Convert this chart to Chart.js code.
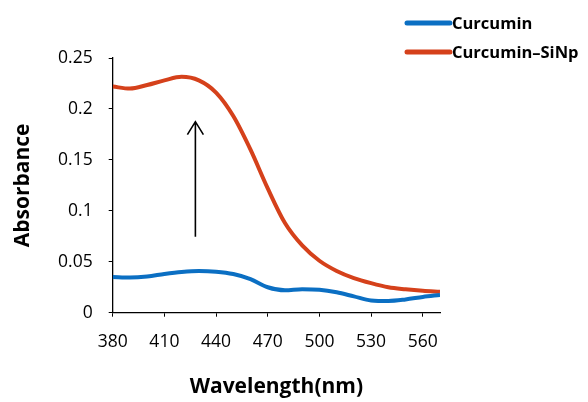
<!DOCTYPE html>
<html>
<head>
<meta charset="utf-8">
<script src="https://cdn.jsdelivr.net/npm/chart.js@4"></script>
<style>
    html, body { margin: 0; padding: 0; background: #fff; }
    #wrap { width: 588px; height: 402px; }
</style>
</head>
<body>
<div id="wrap"><canvas id="chart"></canvas></div>
<script>
// данные с графика
const wavelengths = [380, 390, 400, 410, 420, 430, 440, 450, 460, 470, 480, 490, 500, 510, 520, 530, 540, 550, 560, 570];
const curcumin = [0.035, 0.0345, 0.0355, 0.038, 0.040, 0.041, 0.0403, 0.038, 0.033, 0.025, 0.022, 0.023, 0.0225, 0.020, 0.016, 0.012, 0.0115, 0.013, 0.0155, 0.0175];
const curcuminSiNp = [0.222, 0.220, 0.2235, 0.228, 0.2315, 0.228, 0.216, 0.193, 0.160, 0.122, 0.088, 0.066, 0.051, 0.041, 0.034, 0.029, 0.025, 0.023, 0.0215, 0.0205];
const seriesNames = ['Curcumin', 'Curcumin\u2013SiNp'];
const xTicks = [380, 410, 440, 470, 500, 530, 560];
const yTicks = [0, 0.05, 0.1, 0.15, 0.2, 0.25];
const yLabels = ['0', '0.05', '0.1', '0.15', '0.2', '0.25'];
// стрелка: от (x, y0) до (x, y1)
const arrowX = 428;
const arrowFrom = 0.0746;
const arrowTo = 0.1875;

const FONT = "'Open Sans', sans-serif";

function toPoints(ys) {
    return wavelengths.map((x, i) => ({ x: x, y: ys[i] }));
}

// легенда и стрелка рисуются вручную
const extras = {
    id: 'extras',
    afterDraw(chart) {
        const ctx = chart.ctx;
        const xs = chart.scales.x;
        const ys = chart.scales.y;
        // стрелка
        const ax = xs.getPixelForValue(arrowX);
        const ay0 = ys.getPixelForValue(arrowFrom);
        const ay1 = ys.getPixelForValue(arrowTo);
        ctx.save();
        ctx.strokeStyle = '#000';
        ctx.lineWidth = 1.6;
        ctx.beginPath();
        ctx.moveTo(ax, ay0);
        ctx.lineTo(ax, ay1);
        ctx.moveTo(ax - 8, ay1 + 13);
        ctx.lineTo(ax, ay1);
        ctx.lineTo(ax + 8, ay1 + 13);
        ctx.stroke();
        // легенда
        ctx.font = 'bold 16.5px ' + FONT;
        ctx.textBaseline = 'middle';
        ctx.fillStyle = '#000';
        chart.data.datasets.forEach((ds, i) => {
            const y = 23 + i * 29;
            ctx.strokeStyle = ds.borderColor;
            ctx.lineWidth = 5;
            ctx.lineCap = 'round';
            ctx.beginPath();
            ctx.moveTo(407, y);
            ctx.lineTo(450, y);
            ctx.stroke();
            ctx.fillText(ds.label, 452, y + 1);
        });
        ctx.restore();
    }
};

const config = {
    type: 'line',
    data: {
        datasets: [
            {
                label: seriesNames[0],
                data: toPoints(curcumin),
                borderColor: '#0b6fc3',
                borderWidth: 4,
                pointRadius: 0,
                tension: 0.4,
                cubicInterpolationMode: 'monotone'
            },
            {
                label: seriesNames[1],
                data: toPoints(curcuminSiNp),
                borderColor: '#d5411b',
                borderWidth: 4,
                pointRadius: 0,
                tension: 0.4,
                cubicInterpolationMode: 'monotone'
            }
        ]
    },
    options: {
        responsive: true,
        maintainAspectRatio: false,
        animation: false,
        layout: { padding: { left: 0, right: 148, top: 58, bottom: 0 } },
        plugins: {
            legend: { display: false },
            tooltip: { enabled: false }
        },
        scales: {
            x: {
                type: 'linear',
                min: 380,
                max: 570,
                afterBuildTicks: s => { s.ticks = xTicks.map(v => ({ value: v })); },
                afterFit: s => { s.height = 89.3; },
                ticks: { color: '#000', font: { family: FONT, size: 17.5 }, padding: 15, maxRotation: 0 },
                grid: { drawOnChartArea: false, tickLength: 4, color: '#000' },
                border: { color: '#000', width: 1.3 },
                title: {
                    display: true,
                    text: 'Wavelength(nm)',
                    color: '#000',
                    font: { family: FONT, size: 21, weight: 'bold' },
                    padding: { top: 0, bottom: 2 }
                }
            },
            y: {
                min: 0,
                max: 0.25,
                afterBuildTicks: s => { s.ticks = yTicks.map(v => ({ value: v })); },
                afterFit: s => { s.width = 112.7; },
                ticks: {
                    color: '#000',
                    font: { family: FONT, size: 17.5 },
                    padding: 16,
                    callback: (v) => yLabels[yTicks.findIndex(t => Math.abs(t - v) < 1e-9)]
                },
                grid: { drawOnChartArea: false, tickLength: 4, color: '#000' },
                border: { color: '#000', width: 1.3 },
                title: {
                    display: true,
                    text: 'Absorbance',
                    color: '#000',
                    font: { family: FONT, size: 21, weight: 'bold' },
                    padding: { top: 10, bottom: 0 }
                }
            }
        }
    },
    plugins: [extras]
};

new Chart(document.getElementById('chart'), config);
</script>
</body>
</html>
